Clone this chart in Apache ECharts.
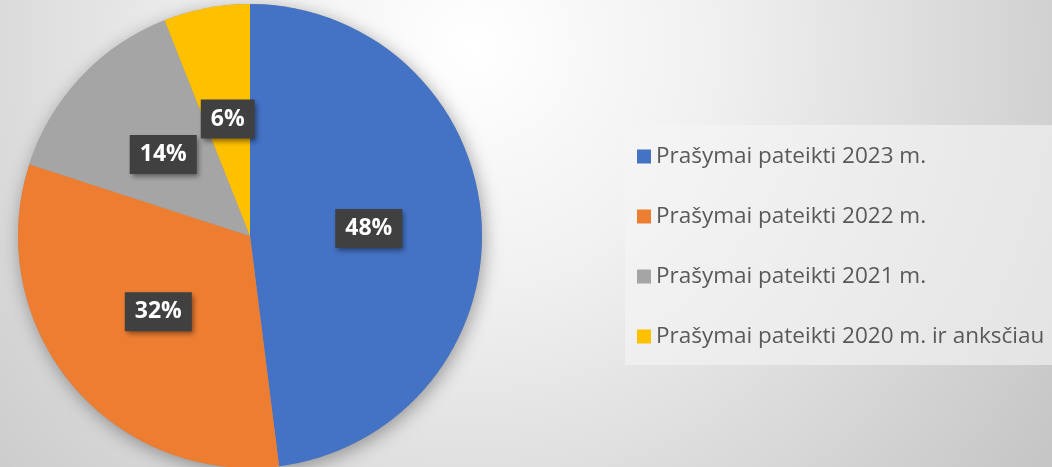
<!DOCTYPE html>
<html>
<head>
<meta charset="utf-8">
<script src="https://cdn.jsdelivr.net/npm/echarts@6/dist/echarts.min.js"></script>
<style>
  html, body { margin: 0; padding: 0; }
  #chart { width: 1052px; height: 467px; }
</style>
</head>
<body>
<div id="chart"></div>
<script>
const categories = [
  'Prašymai pateikti 2023 m.',
  'Prašymai pateikti 2022 m.',
  'Prašymai pateikti 2021 m.',
  'Prašymai pateikti 2020 m. ir anksčiau'
];
const shares = [48, 32, 14, 6];
const colors = ['#4472C4', '#ED7D31', '#A5A5A5', '#FFC000'];

const chart = echarts.init(document.getElementById('chart'));
chart.setOption({
  backgroundColor: {
    type: 'radial', x: 0.45, y: 0.1, r: 1.5,
    colorStops: [
      { offset: 0, color: '#ffffff' },
      { offset: 0.35, color: '#f0f0f0' },
      { offset: 1, color: '#c6c6c6' }
    ]
  },
  color: colors,
  animation: false,
  legend: {
    orient: 'vertical',
    left: 625,
    top: 125,
    data: categories,
    icon: 'rect',
    itemWidth: 14,
    itemHeight: 14,
    itemGap: 37,
    padding: [20, 10, 17, 12],
    backgroundColor: 'rgba(245,245,245,0.6)',
    textStyle: {
      fontFamily: 'Open Sans',
      fontSize: 22.5,
      lineHeight: 22,
      color: '#595959',
      padding: [0, 0, 0, 0]
    },
    selectedMode: false
  },
  series: [
    {
      type: 'pie',
      silent: true,
      center: [250, 236],
      radius: 232,
      label: { show: false },
      itemStyle: {
        color: '#999',
        shadowBlur: 18,
        shadowColor: 'rgba(0,0,0,0.35)',
        shadowOffsetX: 2,
        shadowOffsetY: 4
      },
      data: [{ name: '', value: 1 }],
      z: 1
    },
    {
      type: 'pie',
      center: [250, 236],
      radius: 232,
      startAngle: 90,
      clockwise: true,
      z: 2,
      itemStyle: { borderWidth: 0 },
      label: {
        show: true,
        position: 'inside',
        formatter: p => p.value + '%',
        fontFamily: 'Open Sans',
        fontWeight: 'bold',
        fontSize: 23,
        color: '#ffffff',
        backgroundColor: '#404040',
        padding: [8, 10, 8, 10],
        shadowBlur: 5,
        shadowColor: 'rgba(0,0,0,0.45)',
        shadowOffsetX: 2,
        shadowOffsetY: 3
      },
      labelLine: { show: false },
      data: categories.map((c, i) => ({ name: c, value: shares[i] }))
    }
  ]
});
</script>
</body>
</html>
